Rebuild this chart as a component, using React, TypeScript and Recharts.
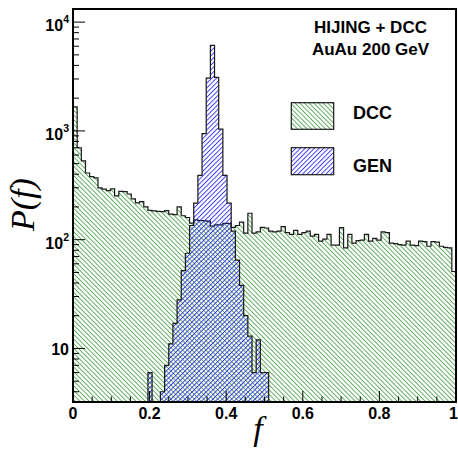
import { ComposedChart, Area, XAxis, YAxis } from 'recharts';

// binning: 92 equal bins over f in [0, 1]
const N_BINS = 92;

// DCC histogram, one count per bin
const DCC_COUNTS = [
  1663, 700, 530, 410, 380, 370, 300, 292, 282, 293,
  253, 278, 276, 263, 237, 218, 224, 200, 186, 184,
  182, 181, 185, 172, 170, 200, 166, 160, 142, 152,
  150, 150, 148, 133, 137, 137, 141, 141, 130, 135,
  145, 115, 175, 115, 118, 130, 128, 120, 118, 120,
  132, 116, 112, 122, 112, 116, 120, 108, 112, 97,
  101, 112, 89, 89, 129, 84, 112, 93, 98, 99,
  112, 97, 103, 99, 118, 116, 93, 92, 90, 89,
  97, 89, 88, 97, 96, 87, 96, 95, 87, 85,
  84, 51,
];

// GEN histogram, counts from bin GEN_FIRST_BIN on (zero = empty bin)
const GEN_FIRST_BIN = 18;
const GEN_COUNTS = [
  6, 0, 0, 4, 7, 11, 17, 28, 52, 75,
  135, 217, 390, 945, 3050, 6100, 3100, 1040, 390, 217,
  120, 65, 38, 20, 13, 6, 12, 6, 6,
];

const SERIES_NAMES = ['DCC', 'GEN'];
const TITLE_LINES = ['HIJING + DCC', 'AuAu 200 GeV'];
const X_TITLE = 'f';
const Y_TITLE = 'P(f)';

const X_MAJOR_TICKS = [0, 0.2, 0.4, 0.6, 0.8, 1];
const X_MINOR_STEP = 0.05;
const Y_MAJOR_TICKS = [10, 100, 1000, 10000];
const Y_DOMAIN: [number, number] = [3.22, 13200];

// log axis can't show 0, so empty bins go below the floor and get clipped
const EMPTY = 1;

const DCC_COLOR = '#46a046';
const GEN_COLOR = '#2222ff';
const LINE_COLOR = '#1a1a1a';
const HATCH = 3.3;
const SANS = '"Liberation Sans", Arial, Helvetica, sans-serif';
const SERIF = '"Liberation Serif", "Times New Roman", Times, serif';

const W = 458;
const H = 449;
const MARGIN = { top: 9, right: 2, bottom: 46, left: 72 };
const PLOT = { x: 73, y: 9, w: 383, h: 393 };

const data = Array.from({ length: N_BINS + 1 }, (_, i) => {
  const k = Math.min(i, N_BINS - 1);
  const g = i < N_BINS ? GEN_COUNTS[k - GEN_FIRST_BIN] ?? 0 : 0;
  return { f: i / N_BINS, dcc: DCC_COUNTS[k], gen: g > 0 ? g : EMPTY };
});

const xTicks = Array.from({ length: Math.round(1 / X_MINOR_STEP) + 1 }, (_, i) => +(i * X_MINOR_STEP).toFixed(2));

const yTicks: number[] = [];
for (let d = 1; d <= Y_DOMAIN[1]; d *= 10) {
  for (let m = 1; m <= 9; m++) {
    const v = m * d;
    if (v >= Y_DOMAIN[0] && v <= Y_DOMAIN[1]) yTicks.push(v);
  }
}

const isXMajor = (v: number) => X_MAJOR_TICKS.some((t) => Math.abs(t - v) < 1e-6);

const XTick = ({ x, y, payload }: any) => {
  const v = payload.value;
  const major = isXMajor(v);
  const last = v === 1;
  return (
    <g>
      <line x1={x} x2={x} y1={y} y2={y - (major ? 11 : 5.5)} stroke="#000" strokeWidth={1} />
      {major && (
        <text
          x={last ? x + 2 : x}
          y={y + 17}
          textAnchor={last ? 'end' : 'middle'}
          fontFamily={SANS}
          fontWeight="bold"
          fontSize={16}
          fill="#000"
        >
          {v === 0 || last ? String(v) : v.toFixed(1)}
        </text>
      )}
    </g>
  );
};

const YTick = ({ x, y, payload }: any) => {
  const v = payload.value;
  const major = Y_MAJOR_TICKS.includes(v);
  const exp = Math.round(Math.log10(v));
  return (
    <g>
      <line x1={x} x2={x + (major ? 12 : 6)} y1={y} y2={y} stroke="#000" strokeWidth={1} />
      {major && (
        <text x={x - 4} y={y + (exp === 1 ? 6.5 : 9)} textAnchor="end" fontFamily={SANS} fontWeight="bold" fontSize={16} fill="#000">
          10
          {exp > 1 && (
            <tspan dy={-8} fontSize={10.5}>
              {exp}
            </tspan>
          )}
        </text>
      )}
    </g>
  );
};

export default function App() {
  return (
    <div style={{ position: 'absolute', left: 0, top: 0, width: W, height: H, background: '#fff' }}>
      <ComposedChart width={W} height={H} data={data} margin={MARGIN}>
        <defs>
          <pattern id="hatchDcc" patternUnits="userSpaceOnUse" width={HATCH} height={HATCH} patternTransform="rotate(-45)">
            <line x1={0.5} y1={0} x2={0.5} y2={HATCH} stroke={DCC_COLOR} strokeWidth={0.85} />
          </pattern>
          <pattern id="hatchGen" patternUnits="userSpaceOnUse" width={HATCH} height={HATCH} patternTransform="rotate(45)">
            <line x1={0.5} y1={0} x2={0.5} y2={HATCH} stroke={GEN_COLOR} strokeWidth={0.85} />
          </pattern>
        </defs>
        <Area
          type="stepAfter"
          dataKey="dcc"
          name={SERIES_NAMES[0]}
          baseValue={Y_DOMAIN[0]}
          fill="url(#hatchDcc)"
          fillOpacity={1}
          stroke={LINE_COLOR}
          strokeWidth={1.2}
          dot={false}
          activeDot={false}
          isAnimationActive={false}
        />
        <Area
          type="stepAfter"
          dataKey="gen"
          name={SERIES_NAMES[1]}
          baseValue={Y_DOMAIN[0]}
          fill="url(#hatchGen)"
          fillOpacity={1}
          stroke={LINE_COLOR}
          strokeWidth={1.2}
          dot={false}
          activeDot={false}
          isAnimationActive={false}
        />
        <XAxis
          dataKey="f"
          type="number"
          domain={[0, 1]}
          ticks={xTicks}
          interval={0}
          height={1}
          tickSize={0}
          tickMargin={0}
          axisLine={false}
          tickLine={false}
          tick={XTick}
        />
        <YAxis
          type="number"
          scale="log"
          domain={Y_DOMAIN}
          allowDataOverflow
          ticks={yTicks}
          interval={0}
          width={1}
          tickSize={0}
          tickMargin={0}
          axisLine={false}
          tickLine={false}
          tick={YTick}
        />
      </ComposedChart>
      <svg width={W} height={H} style={{ position: 'absolute', left: 0, top: 0, pointerEvents: 'none' }}>
        <rect x={PLOT.x} y={PLOT.y} width={PLOT.w} height={PLOT.h} fill="none" stroke="#000" strokeWidth={2} />
        {TITLE_LINES.map((t, i) => (
          <text key={t} x={370.5} y={33 + i * 22} textAnchor="middle" fontFamily={SANS} fontWeight="bold" fontSize={17} fill="#000">
            {t}
          </text>
        ))}
        <rect x={291.3} y={102.7} width={42.4} height={26.6} fill="url(#hatchDcc)" stroke={LINE_COLOR} strokeWidth={1.2} />
        <text x={353} y={119.3} fontFamily={SANS} fontWeight="bold" fontSize={18} fill="#000">
          {SERIES_NAMES[0]}
        </text>
        <rect x={291.3} y={147.7} width={42.4} height={27} fill="url(#hatchGen)" stroke={LINE_COLOR} strokeWidth={1.2} />
        <text x={353} y={171.7} fontFamily={SANS} fontWeight="bold" fontSize={18} fill="#000">
          {SERIES_NAMES[1]}
        </text>
        <text x={258} y={439.5} textAnchor="middle" fontFamily={SERIF} fontStyle="italic" fontSize={34} fill="#000">
          {X_TITLE}
        </text>
        <text
          transform="translate(34 204.5) rotate(-90)"
          textAnchor="middle"
          fontFamily={SERIF}
          fontStyle="italic"
          fontSize={34}
          fill="#000"
        >
          {Y_TITLE}
        </text>
      </svg>
    </div>
  );
}
